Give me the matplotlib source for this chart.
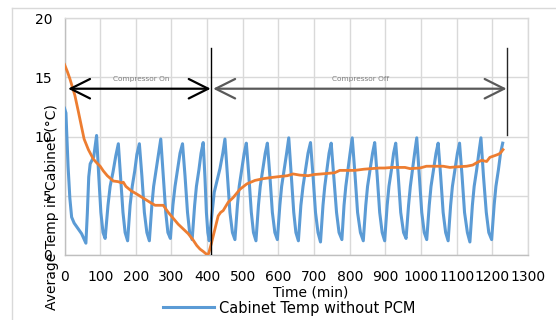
import matplotlib
matplotlib.use("Agg")
import matplotlib.pyplot as plt
from matplotlib.lines import Line2D
from matplotlib.patches import Rectangle

# ---------------- data ----------------
blue_t = [0, 4, 10, 15, 20, 27, 34, 41, 48, 54, 60, 64, 68, 72, 77, 82, 86, 90,
          96, 102, 108, 114, 122, 128, 136, 144, 151,
          157, 164, 170, 177, 184, 190, 197, 203, 210,
          217, 224, 231, 238, 245, 250, 257, 264, 270,
          277, 284, 290, 297, 304, 310, 317, 324, 331,
          338, 345, 351, 358, 365, 370, 377, 383, 389,
          394, 398, 402, 406, 412, 420, 428, 436, 444, 450,
          457, 464, 471, 478, 485, 490, 497, 504, 510,
          517, 524, 530, 537, 544, 549, 556, 563, 569,
          576, 583, 590, 597, 604, 609, 616, 623, 629,
          636, 643, 649, 656, 663, 669, 676, 683, 690,
          697, 704, 711, 718, 725, 730, 736, 742, 748,
          755, 763, 770, 778, 784, 789, 795, 801, 807,
          815, 822, 830, 838, 845, 850, 857, 864, 870,
          877, 884, 891, 898, 905, 910, 917, 923, 929,
          936, 943, 951, 958, 965, 970, 976, 982, 988,
          995, 1002, 1009, 1016, 1023, 1028, 1035, 1042, 1048,
          1055, 1062, 1069, 1076, 1083, 1088, 1095, 1102, 1108,
          1115, 1122, 1130, 1137, 1144, 1149, 1156, 1162, 1168,
          1175, 1183, 1190, 1198, 1205, 1210, 1217, 1223, 1229]
blue_v = [12.4, 12.0, 7.5, 4.8, 3.2, 2.7, 2.4, 2.1, 1.8, 1.4, 1.0, 3.5, 6.6, 7.7, 8.0, 8.3, 9.2, 10.1,
          6.7, 3.6, 1.9, 1.4, 4.2, 5.8, 7.0, 8.4, 9.4,
          6.7, 3.6, 1.9, 1.2, 4.2, 5.8, 7.1, 8.5, 9.4,
          6.7, 3.6, 1.9, 1.2, 4.2, 5.8, 7.2, 8.6, 9.8,
          6.7, 3.6, 1.9, 1.4, 4.2, 5.8, 7.2, 8.6, 9.4,
          6.7, 3.6, 1.9, 1.3, 4.2, 5.8, 7.2, 8.6, 9.5,
          6.5, 3.6, 1.9, 1.2, 3.0, 5.3, 6.3, 7.3, 8.6, 9.8,
          6.7, 3.6, 1.9, 1.3, 4.2, 5.8, 7.2, 8.6, 9.45,
          6.7, 3.6, 1.9, 1.2, 4.2, 5.8, 7.2, 8.6, 9.45,
          6.7, 3.6, 1.9, 1.3, 4.2, 5.8, 7.2, 8.6, 9.9,
          6.7, 3.6, 1.9, 1.2, 4.2, 5.8, 7.2, 8.6, 9.5,
          6.7, 3.6, 1.9, 1.1, 4.2, 5.8, 7.2, 8.6, 9.45,
          6.7, 3.6, 1.9, 1.3, 4.2, 5.8, 7.2, 8.6, 9.9,
          6.7, 3.6, 1.9, 1.2, 4.2, 5.8, 7.2, 8.6, 9.5,
          6.7, 3.6, 1.9, 1.2, 4.2, 5.8, 7.2, 8.6, 9.45,
          6.7, 3.6, 1.9, 1.4, 4.2, 5.8, 7.2, 8.6, 9.9,
          6.7, 3.6, 1.9, 1.3, 4.2, 5.8, 7.2, 8.6, 9.45,
          6.7, 3.6, 1.9, 1.2, 4.2, 5.8, 7.2, 8.6, 9.45,
          6.7, 3.6, 1.9, 1.1, 4.2, 5.8, 7.2, 8.6, 9.9,
          6.7, 3.6, 1.9, 1.3, 4.2, 5.8, 7.2, 8.6, 9.45]

orange_t = [0, 8, 15, 22, 29, 39, 48, 55, 67, 81, 90, 100, 109, 120, 137, 150, 160, 165,
            172, 188, 200, 216, 240, 254, 265, 277, 291, 305, 319, 333, 347, 360, 371,
            380, 389, 399, 404, 413, 422, 431, 438, 445, 459, 473, 492, 511, 534, 557,
            581, 609, 625, 641, 660, 683, 700, 721, 740, 758, 772, 790, 814, 840, 861,
            884, 898, 920, 941, 955, 969, 997, 1015, 1040, 1062, 1081, 1100, 1128, 1145,
            1156, 1170, 1184, 1193, 1207, 1216, 1222, 1230]
orange_v = [16.1, 15.5, 14.9, 14.2, 13.5, 12.1, 10.8, 9.8, 8.9, 8.1, 7.8, 7.5, 7.1, 6.7, 6.25, 6.2, 6.1, 6.15,
            5.8, 5.4, 5.2, 4.9, 4.45, 4.2, 4.2, 4.2, 3.6, 3.1, 2.6, 2.2, 1.8, 1.3, 0.8,
            0.5, 0.3, 0.05, 0.1, 1.1, 2.2, 3.3, 3.6, 3.75, 4.45, 4.85, 5.55, 6.0, 6.3, 6.45,
            6.55, 6.65, 6.7, 6.85, 6.75, 6.7, 6.8, 6.85, 6.9, 6.95, 7.15, 7.15, 7.15, 7.25, 7.3,
            7.35, 7.35, 7.4, 7.4, 7.4, 7.3, 7.35, 7.5, 7.5, 7.5, 7.4, 7.45, 7.5, 7.6,
            7.8, 8.0, 7.9, 8.25, 8.4, 8.5, 8.6, 8.9]

x_ticks = [0, 100, 200, 300, 400, 500, 600, 700, 800, 900, 1000, 1100, 1200, 1300]
y_ticks = [0, 5, 10, 15, 20]

on_start, on_end = 10, 410
off_start, off_end = 417, 1240
arrow_level = 14.05
switch_time = 410
end_time = 1240
line_top = 17.5
end_line_bottom = 10.1

BLUE = "#5B9BD5"
ORANGE = "#ED7D31"

W, H = 556, 320
plt.rcParams['font.family'] = ['DejaVu Sans']
fig = plt.figure(figsize=(W / 100, H / 100), dpi=100)
fig.patch.set_facecolor("white")

# outer chart border
fig.add_artist(Line2D([12 / W, 12 / W], [0, 1 - 8 / H], transform=fig.transFigure,
                      color="#d9d9d9", lw=1.0))
fig.add_artist(Line2D([12 / W, 1], [1 - 8 / H, 1 - 8 / H], transform=fig.transFigure,
                      color="#d9d9d9", lw=1.0))

left, right, top, bottom = 64.5, 528, 18.3, 255
ax = fig.add_axes([left / W, 1 - bottom / H, (right - left) / W, (bottom - top) / H])
ax.set_xlim(0, 1300)
ax.set_ylim(0, 20)
ax.set_xticks(x_ticks)
ax.set_yticks(y_ticks)
ax.set_xticklabels([str(v) for v in x_ticks])
ax.set_yticklabels([str(v) for v in y_ticks])
ax.grid(True, color="#d9d9d9", lw=1.0)
ax.set_axisbelow(True)
for s in ["top", "right"]:
    ax.spines[s].set_color("#d9d9d9")
    ax.spines[s].set_linewidth(1.0)
for s in ["left", "bottom"]:
    ax.spines[s].set_color("#bfbfbf")
    ax.spines[s].set_linewidth(1.0)
ax.tick_params(axis="both", length=0, labelsize=10, colors="black")
ax.tick_params(axis="x", pad=10.5)
ax.tick_params(axis="y", pad=9)

blue_line, = ax.plot(blue_t, blue_v, color=BLUE, lw=2.2, solid_joinstyle="round",
                     label="Cabinet Temp without PCM", zorder=3)
ax.plot(orange_t, orange_v, color=ORANGE, lw=2.0, solid_joinstyle="round", zorder=4)

# vertical marker lines
ax.plot([switch_time, switch_time], [0, line_top], color="black", lw=1.0, zorder=5)
ax.plot([end_time, end_time], [end_line_bottom, line_top], color="#262626", lw=1.0, zorder=5)

# double arrows
ax.annotate("", xy=(on_end, arrow_level), xytext=(on_start, arrow_level),
            arrowprops=dict(arrowstyle="<->,head_length=0.7,head_width=0.35",
                            color="black", lw=1.6, mutation_scale=20,
                            shrinkA=0, shrinkB=0), zorder=6)
ax.annotate("", xy=(off_end, arrow_level), xytext=(off_start, arrow_level),
            arrowprops=dict(arrowstyle="<->,head_length=0.7,head_width=0.35",
                            color="#595959", lw=1.6, mutation_scale=20,
                            shrinkA=0, shrinkB=0), zorder=6)
ax.text(216, 14.9, "Compressor On", fontsize=5.3, color="#7f7f7f", ha="center", va="center")
ax.text(830, 14.85, "Compressor Off", fontsize=5.3, color="#7f7f7f", ha="center", va="center")

# axis titles
fig.text(310.5 / W, 1 - 292 / H, "Time (min)", fontsize=10, ha="center", va="center")
fig.text(52 / W, 1 - 207 / H, "Average Temp in Cabinet (°C)", fontsize=10,
         rotation=90, ha="center", va="center")

# legend (only the first entry is visible in the cropped chart)
fig.legend(handles=[blue_line], loc="center left",
           bbox_to_anchor=(163 / W, 1 - 308 / H), bbox_transform=fig.transFigure,
           frameon=False, fontsize=10.5, handlelength=3.5, handletextpad=0.35,
           borderpad=0, borderaxespad=0)

fig.savefig("out.png", dpi=100, facecolor="white")
